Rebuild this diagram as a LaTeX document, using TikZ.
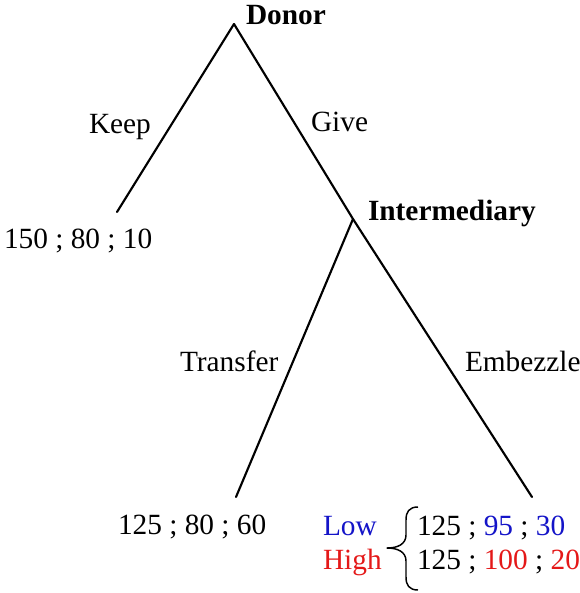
\documentclass[tikz,border=0pt]{standalone}
\usepackage{fontspec}
\setmainfont{Liberation Serif}
\definecolor{lowblue}{RGB}{20,20,200}
\definecolor{highred}{RGB}{228,24,24}
\begin{document}
\begin{tikzpicture}[x=0.75pt,y=-0.75pt,
  lbl/.style={inner sep=0pt,outer sep=0pt,anchor=base west,font=\fontsize{22}{26}\selectfont},
  branch/.style={line width=1.6pt,line cap=round},
  bracepath/.style={line width=1.1pt,line join=round}]
\useasboundingbox (0,0) rectangle (580,593);
% tree points
\coordinate (dapex) at (234,24);
\coordinate (iapex) at (353,219);
\coordinate (keepend) at (117,212);
\coordinate (transend) at (236,497);
\coordinate (embend) at (532,497);
% branches
\draw[branch] (dapex) -- (keepend);
\draw[branch] (dapex) -- (iapex);
\draw[branch] (iapex) -- (transend);
\draw[branch] (iapex) -- (embend);
% labels
\node[lbl,font=\fontsize{22}{26}\selectfont\bfseries] (donor) at (246,24) {Donor};
\node[lbl,font=\fontsize{22}{26}\selectfont\bfseries] (inter) at (368,220) {Intermediary};
\node[lbl] (keep) at (89,133) {Keep};
\node[lbl] (give) at (311,131) {Give};
\node[lbl] (transfer) at (180,371) {Transfer};
\node[lbl] (embezzle) at (465,371) {Embezzle};
\node[lbl] (payk) at (4,248) {150 ; 80 ; 10};
\node[lbl] (payt) at (118,534) {125 ; 80 ; 60};
\node[lbl,text=lowblue] (low) at (323,535) {Low};
\node[lbl,text=highred] (high) at (323,569) {High};
\node[lbl] (paylow) at (417,535) {125 ; \textcolor{lowblue}{95} ; \textcolor{lowblue}{30}};
\node[lbl] (payhigh) at (417,569) {125 ; \textcolor{highred}{100} ; \textcolor{highred}{20}};
% brace
\draw[bracepath] (418,507) .. controls (409,507) and (406,512) .. (406,520)
  -- (406,535) .. controls (406,544) and (398,548) .. (387,548)
  .. controls (398,548) and (406,552) .. (406,561)
  -- (406,577) .. controls (406,585) and (409,590) .. (418,590);
\end{tikzpicture}
\end{document}
